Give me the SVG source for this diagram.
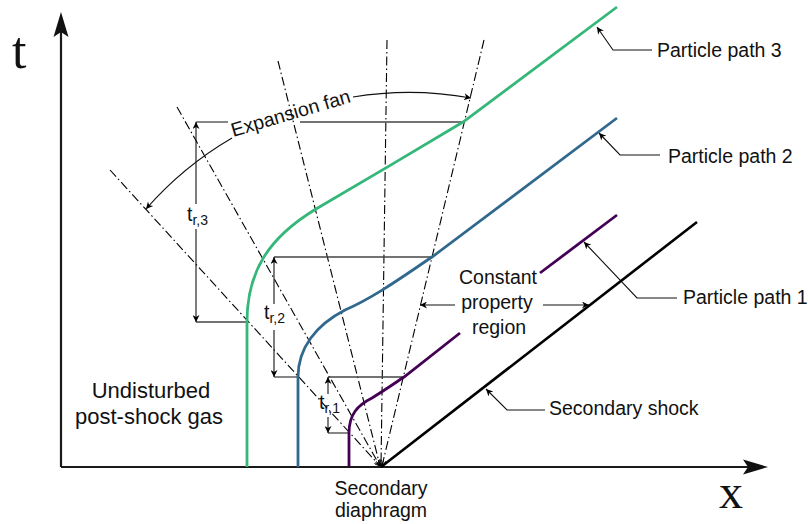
<svg xmlns="http://www.w3.org/2000/svg" width="808" height="524" viewBox="0 0 808 524">
<defs>
<style>
.lbl{font-family:"Liberation Sans",Arial,sans-serif;font-size:19.5px;fill:#111}
.big{font-family:"Liberation Sans",Arial,sans-serif;font-size:22px;fill:#111}
.axl{font-family:"Liberation Serif","Times New Roman",serif;fill:#111}
.sub{font-size:14px}
.fan{stroke:#000;stroke-width:1.1;fill:none;stroke-dasharray:9 3 1.5 3}
.lead{stroke:#111;stroke-width:1.1;fill:none;marker-end:url(#arr)}
.tick{stroke:#444;stroke-width:1.3;fill:none}
.axis{stroke:#1a1a1a;stroke-width:2.2;fill:none}
.path3{stroke:#35b779;stroke-width:2.8;fill:none}
.path2{stroke:#31688e;stroke-width:2.8;fill:none}
.path1{stroke:#440154;stroke-width:2.8;fill:none}
</style>
<marker id="arr" viewBox="0 0 10 10" refX="10" refY="5" markerWidth="9" markerHeight="7" markerUnits="userSpaceOnUse" orient="auto-start-reverse">
<path d="M0,0 L10,5 L0,10 L3,5 Z" fill="#000"/>
</marker>
<marker id="chev" viewBox="0 0 10 10" refX="10" refY="5" markerWidth="7" markerHeight="6" markerUnits="userSpaceOnUse" orient="auto">
<path d="M0,0 L10,5 L0,10" fill="none" stroke="#000" stroke-width="1.4"/>
</marker>
</defs>
<rect width="808" height="524" fill="#fff"/>

<g id="axes">
<line class="axis" x1="61" y1="467" x2="61" y2="30"/>
<path d="M61,12 L68.5,37 L61,32 L53.5,37 Z" fill="#111"/>
<line class="axis" x1="61" y1="467" x2="752" y2="467"/>
<path d="M768,467 L743,459.5 L748,467 L743,474.5 Z" fill="#111"/>
<text class="axl" x="12" y="68" font-size="52">t</text>
<text class="axl" x="719" y="508" font-size="48">x</text>
</g>

<g id="connectors">
<g id="fan-lines">
<line class="fan" x1="110" y1="170" x2="380" y2="466" marker-end="url(#chev)"/>
<line class="fan" x1="177" y1="107" x2="380" y2="466" marker-end="url(#chev)"/>
<line class="fan" x1="278" y1="61" x2="380" y2="466" marker-end="url(#chev)"/>
<line class="fan" x1="387" y1="40" x2="381" y2="466" marker-end="url(#chev)"/>
<line class="fan" x1="484" y1="40" x2="382" y2="466" marker-end="url(#chev)"/>
</g>
<g id="ticks">
<line class="tick" x1="196" y1="122" x2="228" y2="122"/>
<line class="tick" x1="300" y1="122" x2="463" y2="122"/>
<line class="tick" x1="196" y1="322" x2="247" y2="322"/>
<line class="tick" x1="274" y1="257" x2="432" y2="257"/>
<line class="tick" x1="274" y1="377" x2="298" y2="377"/>
<line class="tick" x1="328" y1="377" x2="404" y2="377"/>
<line class="tick" x1="328" y1="433" x2="349" y2="433"/>
</g>
<g id="dimensions">
<path class="lead" d="M196,204 L196,122"/>
<path class="lead" d="M196,229 L196,322"/>
<path class="lead" d="M274,304 L274,257"/>
<path class="lead" d="M274,330 L274,377"/>
<path class="lead" d="M328,394 L328,377"/>
<path class="lead" d="M328,417 L328,433"/>
</g>
<g id="fan-arc">
<path class="lead" d="M232,138 A346,346 0 0 0 146,209"/>
<path class="lead" d="M353,97 A346,346 0 0 1 471,98"/>
</g>
<g id="leaders">
<path class="lead" d="M652,50 L613,50 L597,27"/>
<path class="lead" d="M660,155 L620,155 L599,133"/>
<path class="lead" d="M677,298 L637,298 L584,242"/>
<path class="lead" d="M545,410 L507,410 L486,389"/>
<path class="lead" d="M455,305 L420,305"/>
<path class="lead" d="M543,305 L589,305"/>
</g>
</g>

<g id="shock">
<line x1="381" y1="467" x2="697" y2="222" stroke="#000" stroke-width="2.6"/>
</g>
<g id="particle-path-3">
<path class="path3" d="M247,467 L247,322 C247,272 268,238 316,209 C352,188 425,145 463,122 L617,7"/>
</g>
<g id="particle-path-2">
<path class="path2" d="M298,467 L298,377 C298,348 316,325 345,310 C375,297 405,275 432,257 L617,118"/>
</g>
<g id="particle-path-1">
<path class="path1" d="M349,467 L349,433 C349,414 358,405 372,398 C385,390 395,383 404,377 L460,333"/>
<path class="path1" d="M540,273 L617,215"/>
</g>

<g id="labels">
<text class="lbl" transform="translate(292.5,119.5) rotate(-16.4)" text-anchor="middle" font-size="20">Expansion fan</text>
<text class="lbl" x="657" y="57">Particle path 3</text>
<text class="lbl" x="668" y="163">Particle path 2</text>
<text class="lbl" x="683" y="304">Particle path 1</text>
<text class="lbl" x="549" y="415">Secondary shock</text>
<text class="lbl" text-anchor="middle"><tspan x="498" y="284">Constant</tspan><tspan x="497" y="309">property</tspan><tspan x="499" y="334">region</tspan></text>
<text class="big" text-anchor="middle"><tspan x="151" y="398">Undisturbed</tspan><tspan x="149" y="424">post-shock gas</tspan></text>
<text class="lbl" text-anchor="middle"><tspan x="381" y="495">Secondary</tspan><tspan x="381" y="517">diaphragm</tspan></text>
<text class="lbl" x="187" y="221" font-size="20">t<tspan class="sub" dy="4">r,3</tspan></text>
<text class="lbl" x="264" y="319" font-size="20">t<tspan class="sub" dy="4">r,2</tspan></text>
<text class="lbl" x="319" y="409" font-size="20">t<tspan class="sub" dy="4">r,1</tspan></text>
</g>
</svg>
